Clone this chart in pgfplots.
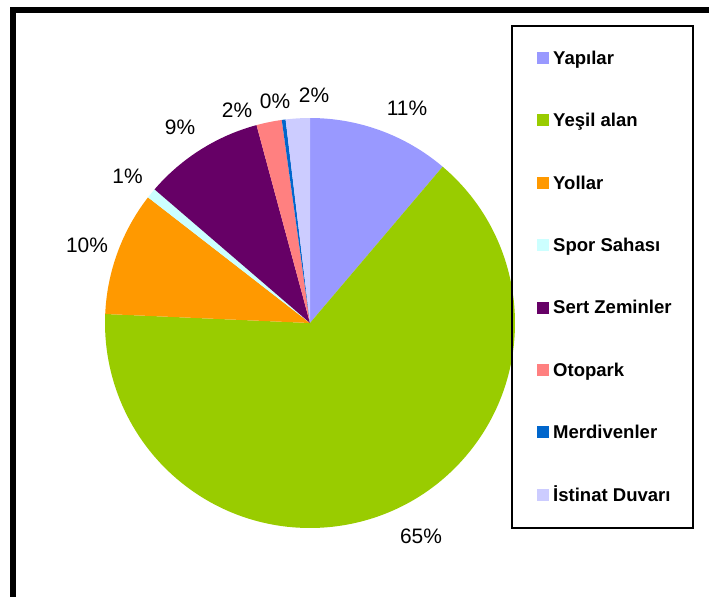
\documentclass[border=0pt]{standalone}
\usepackage{pgfplots}
\pgfplotsset{compat=1.18}
\usepackage{pgfplotstable}
\usepackage{fontspec}
\setmainfont{Liberation Sans}

% Excel 2003 palette
\definecolor{c0}{HTML}{9999FF}
\definecolor{c1}{HTML}{99CC00}
\definecolor{c2}{HTML}{FF9900}
\definecolor{c3}{HTML}{CCFFFF}
\definecolor{c4}{HTML}{660066}
\definecolor{c5}{HTML}{FF8080}
\definecolor{c6}{HTML}{0066CC}
\definecolor{c7}{HTML}{CCCCFF}

% share in percent, printed label, label position (px)
\pgfplotstableread[col sep=comma]{
name,value,pct,lx,ly
Yapılar,11.2,11,407,115
Yeşil alan,64.5,65,421,543
Yollar,9.8,10,87,252
Spor Sahası,0.8,1,127.5,183
Sert Zeminler,9.5,9,180,134
Otopark,2.0,2,237,117
Merdivenler,0.3,0,275,108
İstinat Duvarı,1.9,2,314,102
}\piedata

\begin{document}
\begin{tikzpicture}
\begin{axis}[
  scale only axis, width=709bp, height=597bp,
  xmin=0, xmax=709, ymin=0, ymax=597,
  y dir=reverse, hide axis, clip=false,
]
\path (axis cs:0,0) rectangle (axis cs:709,597);
% outer frame (only top and left are visible)
\fill[black] (axis cs:10,7) rectangle (axis cs:709,13);
\fill[black] (axis cs:10,7) rectangle (axis cs:16,597);

\def\cum{0}
\pgfplotsforeachungrouped \i in {0,...,7}{
  \pgfplotstablegetelem{\i}{value}\of\piedata
  \let\val\pgfplotsretval
  \pgfmathsetmacro{\a}{90-3.6*\cum}
  \pgfmathsetmacro{\b}{90-3.6*(\cum+\val)}
  \pgfmathsetmacro{\cum}{\cum+\val}
  \edef\temp{\noexpand\fill[c\i] (axis cs:310,323) -- ++(\a:205bp)
    arc[start angle=\a, end angle=\b, radius=205bp] -- cycle;}
  \temp
  % percentage label
  \pgfplotstablegetelem{\i}{pct}\of\piedata \let\pct\pgfplotsretval
  \pgfplotstablegetelem{\i}{lx}\of\piedata \let\lx\pgfplotsretval
  \pgfplotstablegetelem{\i}{ly}\of\piedata \let\ly\pgfplotsretval
  \edef\temp{\noexpand\node[anchor=base, inner sep=0pt,
    font=\noexpand\fontsize{21}{25}\noexpand\selectfont]
    at (axis cs:\lx,\ly) {\pct\noexpand\%};}
  \temp
  % legend entry
  \pgfplotstablegetelem{\i}{name}\of\piedata \let\nm\pgfplotsretval
  \pgfmathsetmacro{\ey}{58+62.4*\i}
  \pgfmathsetmacro{\eb}{64.3+62.4*\i}
  \edef\temp{\noexpand\fill[c\i] (axis cs:537,\ey-6) rectangle (axis cs:549,\ey+6);
    \noexpand\node[anchor=base west, inner sep=0pt,
    font=\noexpand\fontsize{18.6}{22}\noexpand\selectfont\noexpand\bfseries]
    at (axis cs:553,\eb) {\nm};}
  \temp
}
\draw[black, line width=2bp] (axis cs:512,26) rectangle (axis cs:693,528);
\end{axis}
\end{tikzpicture}
\end{document}
